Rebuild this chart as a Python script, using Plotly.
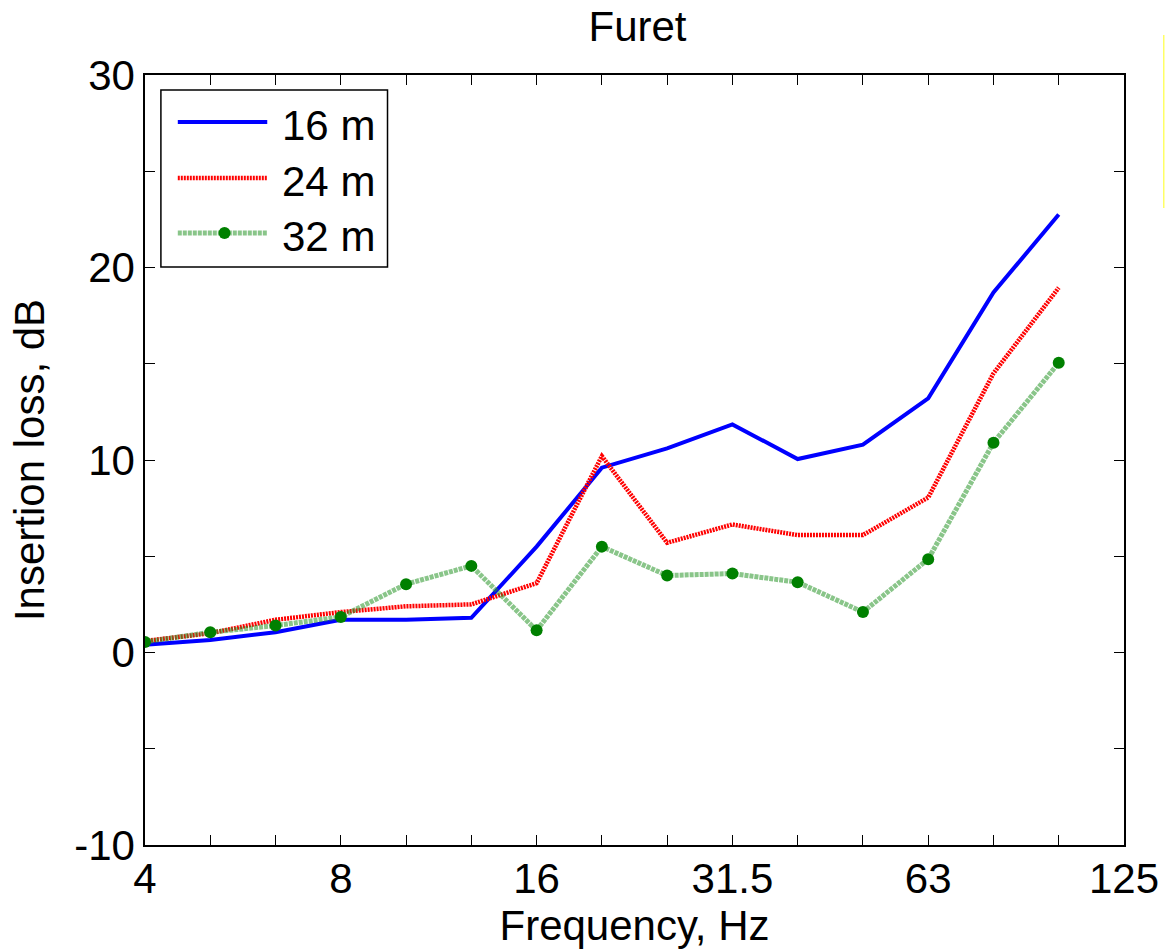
import plotly.graph_objects as go

freq_labels = ['4', '5', '6.3', '8', '10', '12.5', '16', '20', '25', '31.5',
               '40', '50', '63', '80', '100', '125']
shown_freq_labels = ['4', '8', '16', '31.5', '63', '125']

il_16m = [0.4, 0.65, 1.05, 1.7, 1.7, 1.8, 5.5, 9.6, 10.6, 11.85, 10.05, 10.8, 13.2, 18.7, 22.75]
il_24m = [0.6, 1.0, 1.7, 2.1, 2.4, 2.5, 3.6, 10.2, 5.7, 6.65, 6.1, 6.1, 8.05, 14.5, 18.95]
il_32m = [0.55, 1.05, 1.4, 1.85, 3.55, 4.5, 1.15, 5.5, 4.0, 4.1, 3.65, 2.1, 4.85, 10.9, 15.05]

series_names = ['16 m', '24 m', '32 m']
y_tick_vals = [-10, -5, 0, 5, 10, 15, 20, 25, 30]
y_tick_text = ['-10', '', '0', '', '10', '', '20', '', '30']

FONT = 'Arial, Liberation Sans, Helvetica, sans-serif'
FS = 42

x_idx = list(range(len(freq_labels)))
x_tick_text = [f if f in shown_freq_labels else '' for f in freq_labels]

style_16 = dict(color='#0000ff', width=4)
style_24 = dict(color='#ff0000', width=4.5, dash='2px,1px')
style_32 = dict(color='rgba(40,150,40,0.55)', width=5, dash='4px,1px')

fig = go.Figure()
fig.add_trace(go.Scatter(x=x_idx[:len(il_16m)], y=il_16m, mode='lines', name=series_names[0],
                         line=style_16))
fig.add_trace(go.Scatter(x=x_idx[:len(il_24m)], y=il_24m, mode='lines', name=series_names[1],
                         line=style_24))
fig.add_trace(go.Scatter(x=x_idx[:len(il_32m)], y=il_32m, mode='lines+markers', name=series_names[2],
                         line=style_32, marker=dict(color='#008000', size=12)))

# manual MATLAB-style legend (paper coordinates)
def px_x(p):
    return (p - 145) / 985.0

def px_y(p):
    return (845 - p) / 770.0

shapes = [
    dict(type='rect', xref='paper', yref='paper', x0=px_x(161), x1=px_x(389),
         y0=px_y(267), y1=px_y(90), line=dict(color='black', width=1.5), fillcolor='white', layer='above'),
]
rows = [122, 178, 233]
for r, st in zip(rows, [style_16, style_24, style_32]):
    shapes.append(dict(type='line', xref='paper', yref='paper', x0=px_x(178), x1=px_x(268),
                       y0=px_y(r), y1=px_y(r), line=st, layer='above'))
shapes.append(dict(type='circle', xref='paper', yref='paper',
                   x0=px_x(219), x1=px_x(231), y0=px_y(239), y1=px_y(227),
                   fillcolor='#008000', line=dict(color='#008000', width=0), layer='above'))
# yellow edge at the far right
shapes.append(dict(type='line', xref='paper', yref='paper', x0=px_x(1170), x1=px_x(1170),
                   y0=px_y(208), y1=px_y(35), line=dict(color='#ffff66', width=1.5)))

annotations = []
for r, name in zip(rows, series_names):
    annotations.append(dict(xref='paper', yref='paper', x=px_x(281), y=px_y(r + 3),
                            text=name, showarrow=False, xanchor='left', yanchor='middle',
                            font=dict(family=FONT, size=FS, color='black')))

fig.update_layout(
    width=1171, height=950,
    margin=dict(l=145, r=41, t=75, b=105),
    paper_bgcolor='white', plot_bgcolor='white',
    showlegend=False,
    title=dict(text='Furet', x=(637.5 / 1171), xanchor='center', y=1 - 26 / 950, yanchor='middle',
               font=dict(family=FONT, size=FS, color='black')),
    font=dict(family=FONT, size=FS, color='black'),
    shapes=shapes,
    annotations=annotations,
)
fig.update_xaxes(range=[0, 15], tickmode='array', tickvals=x_idx, ticktext=x_tick_text,
                 ticks='inside', ticklen=10, tickwidth=1, tickcolor='black',
                 showline=True, linecolor='black', linewidth=1.5, mirror='allticks',
                 showgrid=False, zeroline=False, ticklabelstandoff=-4,
                 tickfont=dict(family=FONT, size=FS, color='black'),
                 title=dict(text='Frequency, Hz', font=dict(family=FONT, size=FS, color='black'), standoff=6))
fig.update_yaxes(range=[-10, 30], tickmode='array', tickvals=y_tick_vals, ticktext=y_tick_text,
                 ticks='inside', ticklen=10, tickwidth=1, tickcolor='black',
                 showline=True, linecolor='black', linewidth=1.5, mirror='allticks',
                 showgrid=False, zeroline=False,
                 tickfont=dict(family=FONT, size=FS, color='black'),
                 title=dict(text='Insertion loss, dB', font=dict(family=FONT, size=FS, color='black'), standoff=16))

fig.write_html('out.html')
